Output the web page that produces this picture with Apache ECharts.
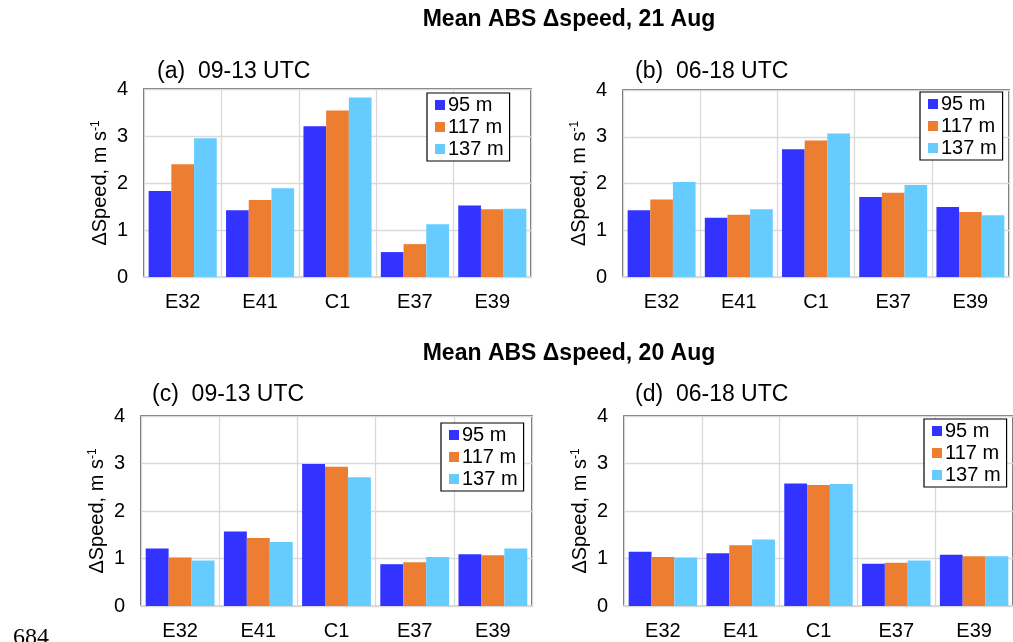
<!DOCTYPE html>
<html>
<head>
<meta charset="utf-8">
<script src="https://cdn.jsdelivr.net/npm/echarts@6/dist/echarts.min.js"></script>
<style>
  html, body { margin: 0; padding: 0; background: #fff; }
  #chart { width: 1013px; height: 642px; }
</style>
</head>
<body>
<div id="chart"></div>
<script>
// Sites along the x axis
const categories = ['E32', 'E41', 'C1', 'E37', 'E39'];
const heights = ['95 m', '117 m', '137 m'];
const yTicks = [0, 1, 2, 3, 4];

// Mean absolute speed difference (m/s), 21 Aug, 09-13 UTC
const aug21_0913_95 = [1.83, 1.42, 3.21, 0.53, 1.52];
const aug21_0913_117 = [2.40, 1.64, 3.54, 0.70, 1.44];
const aug21_0913_137 = [2.95, 1.89, 3.82, 1.12, 1.45];

// 21 Aug, 06-18 UTC
const aug21_0618_95 = [1.43, 1.27, 2.73, 1.71, 1.50];
const aug21_0618_117 = [1.66, 1.33, 2.92, 1.80, 1.39];
const aug21_0618_137 = [2.03, 1.45, 3.07, 1.97, 1.32];

// 20 Aug, 09-13 UTC
const aug20_0913_95 = [1.21, 1.57, 2.99, 0.88, 1.09];
const aug20_0913_117 = [1.02, 1.43, 2.93, 0.92, 1.07];
const aug20_0913_137 = [0.96, 1.35, 2.71, 1.03, 1.21];

// 20 Aug, 06-18 UTC
const aug20_0618_95 = [1.14, 1.11, 2.58, 0.89, 1.08];
const aug20_0618_117 = [1.03, 1.28, 2.55, 0.91, 1.05];
const aug20_0618_137 = [1.02, 1.40, 2.57, 0.96, 1.05];

const colors = ['#3333ff', '#ed7d31', '#66ccff'];
const FONT = 'Liberation Sans, Arial, sans-serif';

const panels = [
  { label: '(a)  09-13 UTC', data: [aug21_0913_95, aug21_0913_117, aug21_0913_137],
    grid: { left: 144, top: 89, width: 387, height: 188 },
    title: { left: 157, top: 60 }, legend: { left: 427, top: 93 } },
  { label: '(b)  06-18 UTC', data: [aug21_0618_95, aug21_0618_117, aug21_0618_137],
    grid: { left: 623, top: 90, width: 386, height: 187 },
    title: { left: 635, top: 60 }, legend: { left: 920, top: 92 } },
  { label: '(c)  09-13 UTC', data: [aug20_0913_95, aug20_0913_117, aug20_0913_137],
    grid: { left: 141, top: 416, width: 391, height: 190 },
    title: { left: 152, top: 383 }, legend: { left: 441, top: 423 } },
  { label: '(d)  06-18 UTC', data: [aug20_0618_95, aug20_0618_117, aug20_0618_137],
    grid: { left: 624, top: 416, width: 392, height: 190 },
    title: { left: 635, top: 383 }, legend: { left: 924, top: 419 } }
];

const option = {
  animation: false,
  backgroundColor: '#fff',
  color: colors,
  title: [
    { text: 'Mean ABS \u0394speed, 21 Aug', left: 569, top: 8, padding: 0, textAlign: 'center',
      textStyle: { fontFamily: FONT, fontSize: 23, fontWeight: 'bold', color: '#000' } },
    { text: 'Mean ABS \u0394speed, 20 Aug', left: 569, top: 342, padding: 0, textAlign: 'center',
      textStyle: { fontFamily: FONT, fontSize: 23, fontWeight: 'bold', color: '#000' } }
  ].concat(panels.map(p => ({
    text: p.label, left: p.title.left, top: p.title.top, padding: 0,
    textStyle: { fontFamily: FONT, fontSize: 23, fontWeight: 'normal', color: '#000' }
  }))),
  legend: panels.map(p => ({
    data: heights,
    orient: 'vertical',
    left: p.legend.left,
    top: p.legend.top,
    icon: 'rect',
    itemWidth: 10,
    itemHeight: 10,
    itemGap: 2,
    padding: [2, 6, 2, 8],
    borderColor: '#000',
    borderWidth: 1.2,
    backgroundColor: '#fff',
    selectedMode: false,
    textStyle: { fontFamily: FONT, fontSize: 20, color: '#000', padding: [0, 0, 0, -2] }
  })),
  grid: panels.map(p => Object.assign({
    show: true, borderColor: '#404040', borderWidth: 1.5, backgroundColor: 'transparent'
  }, p.grid)),
  xAxis: panels.map((p, i) => ({
    type: 'category',
    gridIndex: i,
    data: categories,
    axisTick: { show: false },
    axisLine: { lineStyle: { color: '#d9d9d9', width: 2 } },
    axisLabel: { fontFamily: FONT, fontSize: 20, color: '#000', margin: 15 },
    splitLine: { show: true, lineStyle: { color: '#d9d9d9', width: 1.3 } }
  })),
  yAxis: panels.map((p, i) => ({
    type: 'value',
    gridIndex: i,
    min: yTicks[0],
    max: yTicks[yTicks.length - 1],
    interval: 1,
    name: '\u0394Speed, m s{sup|-1}',
    nameLocation: 'middle',
    nameRotate: 90,
    nameGap: 34,
    nameTextStyle: {
      fontFamily: FONT, fontSize: 20, color: '#000',
      rich: { sup: { fontFamily: FONT, fontSize: 12, color: '#000', verticalAlign: 'top', lineHeight: 20 } }
    },
    axisLine: { show: false },
    axisTick: { show: false },
    axisLabel: { fontFamily: FONT, fontSize: 20, color: '#000', margin: 16 },
    splitLine: { show: true, lineStyle: { color: '#d9d9d9', width: 1.3 } }
  })),
  series: [],
  graphic: [
    { type: 'text', left: 13, top: 626,
      style: { text: '684', fontFamily: 'Liberation Serif, Times New Roman, serif', fontSize: 24, fill: '#000' } }
  ]
};

panels.forEach((p, i) => {
  heights.forEach((h, k) => {
    option.series.push({
      type: 'bar',
      name: h,
      xAxisIndex: i,
      yAxisIndex: i,
      data: p.data[k],
      barGap: 0,
      barCategoryGap: '12%',
      itemStyle: { color: colors[k] }
    });
  });
});

const chart = echarts.init(document.getElementById('chart'));
chart.setOption(option);
</script>
</body>
</html>
